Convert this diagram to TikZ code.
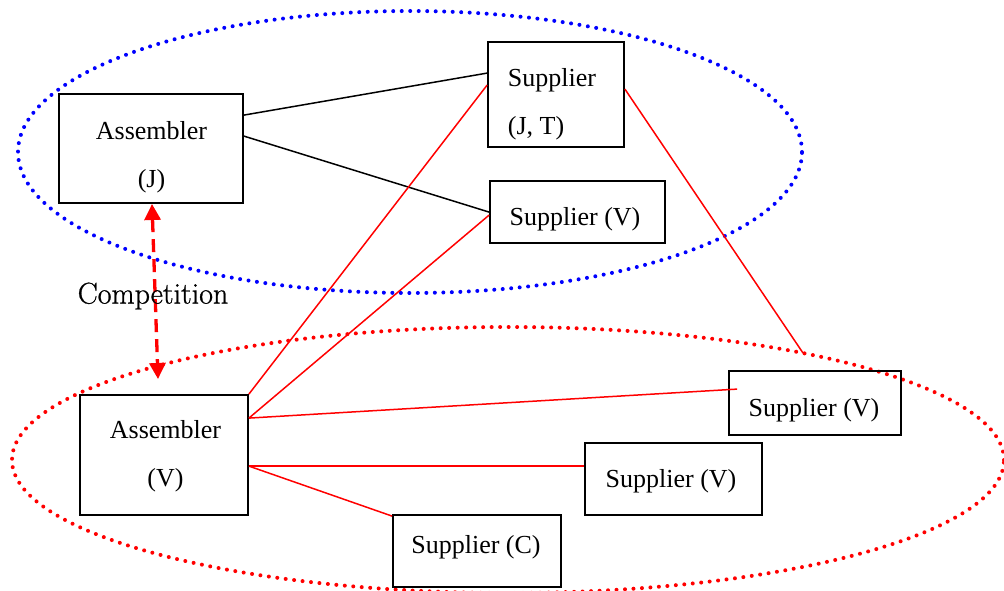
\documentclass[tikz,border=0pt]{standalone}
\usepackage{fontspec}
\newfontfamily\tnr{Liberation Serif}
\newfontfamily\compfont[FakeBold=0.8]{Latin Modern Roman}
\usetikzlibrary{arrows.meta,calc}
\begin{document}
\begin{tikzpicture}[x=1pt,y=-1pt,
  box/.style={draw=black, line width=1.8pt, inner sep=0pt},
  txt/.style={inner sep=0pt, align=center, font=\tnr\fontsize{26}{48}\selectfont},
  blk/.style={draw=black, line width=1.5pt},
  rln/.style={draw=red, line width=1.5pt},
  dotring/.style={line width=4pt, line cap=round, dash pattern=on 0pt off 8.5pt}
]
\useasboundingbox (0,0) rectangle (1004,591);
\fill[white] (0,0) rectangle (1004,591);
% ellipses
\draw[dotring, blue] (410,152) ellipse [x radius=392pt, y radius=141pt];
\draw[dotring, red] (508,460) ellipse [x radius=496pt, y radius=133pt];
% boxes
\node[box, minimum width=184pt, minimum height=109pt] (aj) at (151,148.5) {};
\node[box, minimum width=136pt, minimum height=105pt] (sjt) at (556,94.5) {};
\node[box, minimum width=175pt, minimum height=62pt] (svt) at (577.5,212) {};
\node[box, minimum width=168pt, minimum height=120pt] (av) at (164,455) {};
\node[box, minimum width=172pt, minimum height=64pt] (svr) at (815,403) {};
\node[box, minimum width=177pt, minimum height=72pt] (svm) at (673.5,479) {};
\node[box, minimum width=168pt, minimum height=72pt] (svc) at (477,551) {};
% texts
\node[txt] (ajt) at (151.5,157.5) {Assembler\\(J)};
\node[txt, align=left] (sjtt) at (552,104.5) {Supplier\\(J, T)};
\node[txt] (svtt) at (575,219) {Supplier (V)};
\node[txt] (avt) at (165.5,456.5) {Assembler\\(V)};
\node[txt] (svrt) at (814,410) {Supplier (V)};
\node[txt] (svmt) at (671,481) {Supplier (V)};
\node[txt] (svct) at (476,547) {Supplier (C)};
\coordinate (rend) at (803,353);
\coordinate (atop) at (152,204);
\coordinate (abot) at (158,379);
% black links
\draw[blk] ([yshift=-22pt]aj.north east) -- ([yshift=-32pt]sjt.north west);
\draw[blk] ([yshift=-43pt]aj.north east) -- ([yshift=-32pt]svt.north west);
% red links
\draw[rln] (av.north east) -- ([yshift=-44pt]sjt.north west);
\draw[rln] ([yshift=-24pt]av.north east) -- ([yshift=-35pt]svt.north west);
\draw[rln] ([yshift=-24pt]av.north east) -- ([xshift=9pt,yshift=-19pt]svr.north west);
\draw[rln] ([yshift=-72pt]av.north east) -- ([yshift=-24pt]svm.north west);
\draw[rln] ([yshift=-72pt]av.north east) -- ([yshift=-2pt]svc.north west);
\draw[rln] ([yshift=-48pt]sjt.north east) -- (rend);
% competition arrow
\draw[red, line width=3.3pt, dash pattern=on 13pt off 7pt,
  {Triangle[width=16pt,length=16pt]}-{Triangle[width=16pt,length=16pt]}] (atop) -- (abot);
\node[font=\compfont\fontsize{30}{36}\selectfont, inner sep=0pt] (comp) at (153,296) {Competition};
\end{tikzpicture}
\end{document}
